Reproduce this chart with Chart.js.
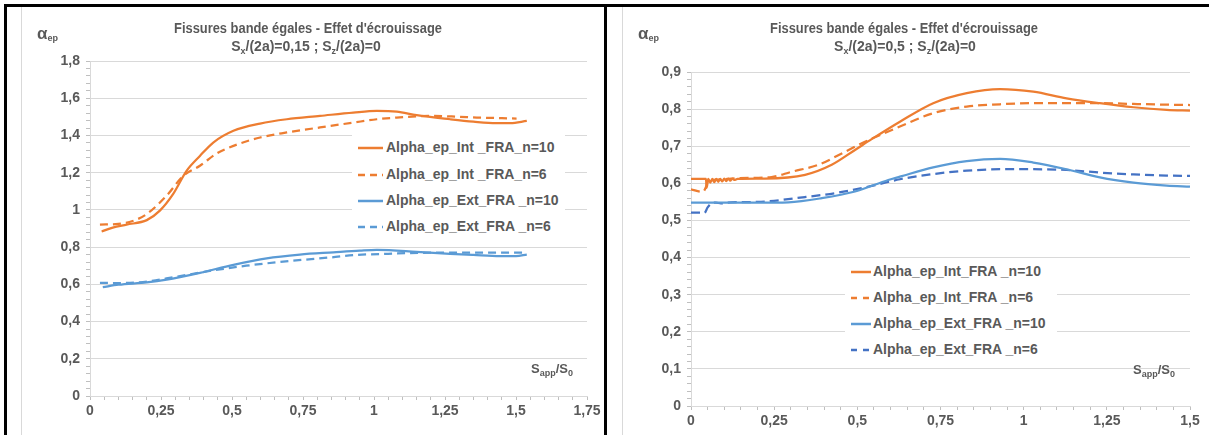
<!DOCTYPE html>
<html><head><meta charset="utf-8">
<script src="https://cdn.jsdelivr.net/npm/chart.js@4.4.0/dist/chart.umd.min.js"></script>
<style>
html,body{margin:0;padding:0;background:#fff;}
#root{position:relative;width:1209px;height:435px;overflow:hidden;background:#fff;}
.abs{position:absolute;}
.t{font-family:'Liberation Sans',Arial,sans-serif;font-weight:bold;color:#595959;white-space:nowrap;line-height:1;}
.legend{background:#fff;}
sub{font-size:9px;vertical-align:baseline;position:relative;top:3px;}
</style>
</head>
<body>
<div id="root">
  <div class="abs" style="left:4px;top:4px;width:1205px;height:3px;background:#000"></div>
  <div class="abs" style="left:4px;top:4px;width:3px;height:431px;background:#000"></div>
  <div class="abs" style="left:604px;top:4px;width:3px;height:431px;background:#000"></div>
  <div class="abs" style="left:21px;top:7px;width:1px;height:428px;background:#d9d9d9"></div>
  <div class="abs" style="left:622px;top:7px;width:1px;height:428px;background:#d9d9d9"></div>
  <canvas id="cL" class="abs" width="605" height="435" style="left:0;top:0"></canvas>
  <canvas id="cR" class="abs" width="604" height="435" style="left:605px;top:0"></canvas>
</div>
<script>
// ---------------- DATA ----------------
// Left chart: Sx/(2a)=0,15
const L_X_INT10 = [0.041, 0.08, 0.129, 0.2, 0.246, 0.293, 0.34, 0.387, 0.434, 0.505, 0.599, 0.693, 0.81, 0.927, 1.01, 1.08, 1.15, 1.268, 1.35, 1.43, 1.48, 1.538];
const L_Y_INT10 = [0.884, 0.905, 0.921, 0.945, 0.996, 1.086, 1.21, 1.29, 1.362, 1.425, 1.464, 1.487, 1.505, 1.523, 1.532, 1.528, 1.509, 1.487, 1.474, 1.466, 1.466, 1.478];
const L_X_INT6 = [0.035, 0.1, 0.15, 0.2, 0.27, 0.329, 0.387, 0.446, 0.505, 0.599, 0.693, 0.81, 0.927, 1.01, 1.08, 1.209, 1.3, 1.362, 1.45, 1.502];
const L_Y_INT6 = [0.921, 0.925, 0.94, 0.978, 1.077, 1.184, 1.237, 1.303, 1.344, 1.389, 1.416, 1.443, 1.469, 1.487, 1.496, 1.505, 1.5, 1.496, 1.493, 1.491];
const L_X_EXT10 = [0.045, 0.1, 0.2, 0.27, 0.387, 0.505, 0.622, 0.739, 0.857, 0.95, 1.01, 1.15, 1.268, 1.35, 1.444, 1.5, 1.538];
const L_Y_EXT10 = [0.585, 0.598, 0.61, 0.625, 0.662, 0.705, 0.74, 0.76, 0.772, 0.781, 0.785, 0.775, 0.764, 0.758, 0.752, 0.752, 0.76];
const L_X_EXT6 = [0.035, 0.1, 0.2, 0.3, 0.434, 0.55, 0.7, 0.85, 0.927, 1.05, 1.2, 1.35, 1.538];
const L_Y_EXT6 = [0.608, 0.607, 0.615, 0.64, 0.675, 0.7, 0.725, 0.745, 0.757, 0.764, 0.77, 0.77, 0.77];

// Right chart: Sx/(2a)=0,5
const R_X_INT10 = [0, 0.045, 0.047, 0.052, 0.058, 0.064, 0.07, 0.076, 0.082, 0.088, 0.094, 0.1, 0.106, 0.112, 0.118, 0.124, 0.13, 0.14, 0.222, 0.343, 0.423, 0.493, 0.543, 0.628, 0.728, 0.829, 0.929, 1.029, 1.129, 1.229, 1.33, 1.43, 1.5];
const R_Y_INT10 = [0.612, 0.612, 0.588, 0.612, 0.602, 0.612, 0.603, 0.612, 0.604, 0.612, 0.605, 0.613, 0.606, 0.613, 0.607, 0.613, 0.609, 0.612, 0.613, 0.623, 0.65, 0.69, 0.719, 0.766, 0.816, 0.843, 0.854, 0.847, 0.829, 0.816, 0.805, 0.798, 0.796];
const R_X_INT6 = [0, 0.035, 0.045, 0.05, 0.08, 0.142, 0.242, 0.302, 0.383, 0.463, 0.523, 0.628, 0.728, 0.829, 0.929, 1.029, 1.129, 1.229, 1.33, 1.43, 1.5];
const R_Y_INT6 = [0.584, 0.577, 0.59, 0.605, 0.61, 0.614, 0.617, 0.631, 0.65, 0.685, 0.712, 0.753, 0.789, 0.807, 0.813, 0.816, 0.816, 0.816, 0.814, 0.812, 0.811];
const R_X_EXT10 = [0, 0.1, 0.2, 0.293, 0.393, 0.493, 0.593, 0.628, 0.728, 0.829, 0.929, 1.029, 1.129, 1.229, 1.33, 1.43, 1.5];
const R_Y_EXT10 = [0.548, 0.548, 0.548, 0.549, 0.56, 0.578, 0.609, 0.618, 0.643, 0.66, 0.666, 0.656, 0.638, 0.616, 0.602, 0.594, 0.591];
const R_X_EXT6 = [0, 0.035, 0.04, 0.05, 0.06, 0.075, 0.09, 0.12, 0.2, 0.343, 0.443, 0.543, 0.628, 0.728, 0.829, 0.929, 1.029, 1.129, 1.229, 1.33, 1.43, 1.5];
const R_Y_EXT6 = [0.521, 0.521, 0.52, 0.535, 0.545, 0.548, 0.546, 0.549, 0.55, 0.563, 0.575, 0.593, 0.611, 0.625, 0.634, 0.638, 0.638, 0.636, 0.629, 0.624, 0.621, 0.62];

// Labels
const L_SERIES = ['Alpha_ep_Int _FRA_n=10', 'Alpha_ep_Int _FRA_n=6', 'Alpha_ep_Ext_FRA _n=10', 'Alpha_ep_Ext_FRA _n=6'];
const R_SERIES = ['Alpha_ep_Int_FRA _n=10', 'Alpha_ep_Int_FRA _n=6', 'Alpha_ep_Ext_FRA _n=10', 'Alpha_ep_Ext_FRA _n=6'];
const TITLE_MAIN = "Fissures bande égales - Effet d'écrouissage";
const L_SUBTITLE = ['0,15', '0'];
const R_SUBTITLE = ['0,5', '0'];

// Tick labels
const L_X_MAJOR = [0, 0.25, 0.5, 0.75, 1, 1.25, 1.5, 1.75];
const L_X_LABELS = ['0', '0,25', '0,5', '0,75', '1', '1,25', '1,5', '1,75'];
const L_Y_MAJOR = [0, 0.2, 0.4, 0.6, 0.8, 1, 1.2, 1.4, 1.6, 1.8];
const L_Y_LABELS = ['0', '0,2', '0,4', '0,6', '0,8', '1', '1,2', '1,4', '1,6', '1,8'];
const R_X_MAJOR = [0, 0.25, 0.5, 0.75, 1, 1.25, 1.5];
const R_X_LABELS = ['0', '0,25', '0,5', '0,75', '1', '1,25', '1,5'];
const R_Y_MAJOR = [0, 0.1, 0.2, 0.3, 0.4, 0.5, 0.6, 0.7, 0.8, 0.9];
const R_Y_LABELS = ['0', '0,1', '0,2', '0,3', '0,4', '0,5', '0,6', '0,7', '0,8', '0,9'];

// ---------------- STYLE ----------------
const ORANGE = '#ED7D31', BLUE = '#5B9BD5', DBLUE = '#4472C4';
const GRID = '#d9d9d9', TEXT = '#595959';
Chart.defaults.font.family = "'Liberation Sans', Arial, sans-serif";
Chart.defaults.font.weight = 'bold';
Chart.defaults.font.size = 14;
Chart.defaults.color = TEXT;

function pts(xs, ys) { return xs.map((x, i) => ({ x: x, y: ys[i] })); }
function findIdx(arr, v) { return arr.findIndex(m => Math.abs(m - v) < 1e-6); }

function makeChart(id, cfg) {
  const ds = cfg.series.map(s => ({
    label: s.label, data: pts(s.xs, s.ys), borderColor: s.color, backgroundColor: s.color,
    borderWidth: 2.25, borderDash: s.dash ? cfg.dash : [], pointRadius: 0,
    cubicInterpolationMode: 'monotone', fill: false
  }));
  return new Chart(document.getElementById(id), {
    type: 'line',
    data: { datasets: ds },
    options: {
      responsive: false, animation: false, devicePixelRatio: 1,
      layout: { autoPadding: false, padding: cfg.padding },
      plugins: { legend: { display: false }, tooltip: { enabled: false }, title: { display: false } },
      scales: {
        x: {
          type: 'linear', min: 0, max: cfg.xMax,
          afterFit: s => { s.height = cfg.xH; },
          ticks: { stepSize: 0.05, autoSkip: false, maxRotation: 0, padding: 3,
            callback: v => { const k = findIdx(cfg.xMajor, v); return k >= 0 ? cfg.xLabels[k] : ''; } },
          grid: { drawOnChartArea: false, tickLength: 4, tickColor: '#bfbfbf' },
          border: { color: GRID }
        },
        y: {
          type: 'linear', min: 0, max: cfg.yMax,
          afterFit: s => { s.width = 40; },
          ticks: { stepSize: cfg.yStep, autoSkip: false, padding: 6,
            callback: v => { const k = findIdx(cfg.yMajor, v); return k >= 0 ? cfg.yLabels[k] : ''; } },
          grid: { tickLength: 4, tickColor: '#bfbfbf',
            color: c => (c.tick && findIdx(cfg.yMajor, c.tick.value) >= 0) ? GRID : 'rgba(0,0,0,0)' },
          border: { color: GRID }
        }
      }
    }
  });
}

const leftCfg = {
  xMax: 1.75, yMax: 1.8, yStep: 0.04, xH: 30, dash: [8, 5],
  padding: { left: 50, right: 18, top: 61, bottom: 9 },
  xMajor: L_X_MAJOR, xLabels: L_X_LABELS, yMajor: L_Y_MAJOR, yLabels: L_Y_LABELS,
  series: [
    { label: L_SERIES[0], xs: L_X_INT10, ys: L_Y_INT10, color: ORANGE, dash: false },
    { label: L_SERIES[1], xs: L_X_INT6, ys: L_Y_INT6, color: ORANGE, dash: true },
    { label: L_SERIES[2], xs: L_X_EXT10, ys: L_Y_EXT10, color: BLUE, dash: false },
    { label: L_SERIES[3], xs: L_X_EXT6, ys: L_Y_EXT6, color: BLUE, dash: true }
  ]
};
const rightCfg = {
  xMax: 1.5, yMax: 0.9, yStep: 0.02, xH: 25, dash: [9, 5],
  padding: { left: 46, right: 19, top: 72, bottom: 4 },
  xMajor: R_X_MAJOR, xLabels: R_X_LABELS, yMajor: R_Y_MAJOR, yLabels: R_Y_LABELS,
  series: [
    { label: R_SERIES[0], xs: R_X_INT10, ys: R_Y_INT10, color: ORANGE, dash: false },
    { label: R_SERIES[1], xs: R_X_INT6, ys: R_Y_INT6, color: ORANGE, dash: true },
    { label: R_SERIES[2], xs: R_X_EXT10, ys: R_Y_EXT10, color: BLUE, dash: false },
    { label: R_SERIES[3], xs: R_X_EXT6, ys: R_Y_EXT6, color: DBLUE, dash: true }
  ]
};
makeChart('cL', leftCfg);
makeChart('cR', rightCfg);

// ---------------- HTML TEXT OVERLAYS ----------------
const root = document.getElementById('root');
function addDiv(html, style) {
  const d = document.createElement('div');
  d.className = 'abs t';
  d.innerHTML = html;
  Object.assign(d.style, style);
  root.appendChild(d);
  return d;
}
function addTitles(cx1, cx2, sub, alphaX, sappX, sappY) {
  addDiv(TITLE_MAIN, { left: (cx1 - 200) + 'px', width: '400px', textAlign: 'center', top: '21px', fontSize: '14px', transform: 'scaleX(0.92)' });
  addDiv('S<sub>x</sub>/(2a)=' + sub[0] + ' ; S<sub>z</sub>/(2a)=' + sub[1],
    { left: (cx2 - 200) + 'px', width: '400px', textAlign: 'center', top: '39px', fontSize: '14px' });
  addDiv('<span style="font-size:17px">α</span><sub style="font-size:9px;top:2px">ep</sub>',
    { left: alphaX + 'px', top: '25px' });
  addDiv('S<sub>app</sub>/S<sub>0</sub>', { left: sappX + 'px', top: sappY + 'px', fontSize: '13px' });
}
addTitles(308, 306, L_SUBTITLE, 37, 531, 362);
addTitles(904, 905, R_SUBTITLE, 638, 1133, 363);

function addLegend(cfg, box, sampleX, sampleW, textX, rowCenters) {
  const lg = document.createElement('div');
  lg.className = 'abs legend';
  Object.assign(lg.style, { left: box[0] + 'px', top: box[1] + 'px', width: box[2] + 'px', height: box[3] + 'px' });
  cfg.series.forEach((s, i) => {
    const svgNS = 'http://www.w3.org/2000/svg';
    const svg = document.createElementNS(svgNS, 'svg');
    svg.setAttribute('width', sampleW); svg.setAttribute('height', 6);
    svg.style.position = 'absolute'; svg.style.left = sampleX + 'px'; svg.style.top = (rowCenters[i] - 3) + 'px';
    const ln = document.createElementNS(svgNS, 'line');
    ln.setAttribute('x1', 0); ln.setAttribute('x2', sampleW); ln.setAttribute('y1', 3); ln.setAttribute('y2', 3);
    ln.setAttribute('stroke', s.color); ln.setAttribute('stroke-width', 2.5);
    if (s.dash) ln.setAttribute('stroke-dasharray', sampleW > 22 ? '7,5' : '6,6');
    svg.appendChild(ln); lg.appendChild(svg);
    const tx = document.createElement('div');
    tx.className = 'abs t'; tx.textContent = s.label;
    Object.assign(tx.style, { left: textX + 'px', top: (rowCenters[i] - 8) + 'px', fontSize: '14px' });
    lg.appendChild(tx);
  });
  root.appendChild(lg);
}
addLegend(leftCfg, [352, 135, 213, 108], 6, 25, 34, [13, 40, 66, 92]);
addLegend(rightCfg, [845, 259, 212, 104], 6, 20, 28, [13, 39, 65, 91]);
</script>
</body></html>
